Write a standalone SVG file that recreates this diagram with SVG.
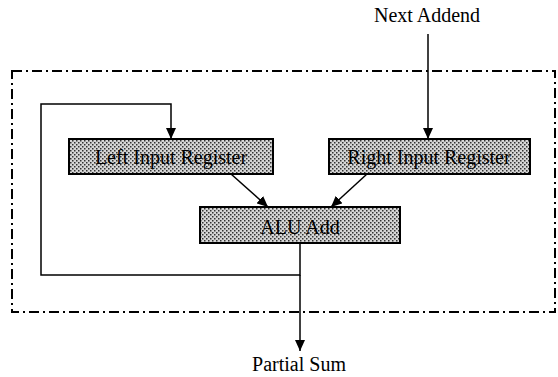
<svg xmlns="http://www.w3.org/2000/svg" width="558" height="377" viewBox="0 0 558 377">
<style>
.box{fill:url(#dots);stroke:#000;stroke-width:2}
.lbl{font-family:"Liberation Serif","Times New Roman",serif;font-size:20px;fill:#000;text-anchor:middle}
.ln{fill:none;stroke:#000;stroke-width:1.5}
.bnd{fill:none;stroke:#000;stroke-width:2;stroke-dasharray:10 4 2 4}
</style>
<defs>
<pattern id="dots" width="4" height="4" patternUnits="userSpaceOnUse">
<rect width="4" height="4" fill="#d6d6d6"/>
<rect x="0" y="0" width="1.5" height="1.5" fill="#333"/>
<rect x="2" y="2" width="1.5" height="1.5" fill="#333"/>
</pattern>
<marker id="ah" markerUnits="userSpaceOnUse" markerWidth="12" markerHeight="10" refX="11" refY="5" orient="auto">
<path d="M0,0 L11,5 L0,10 Z" fill="#000"/>
</marker>
</defs>
<rect class="bnd" x="12" y="71" width="543" height="241"/>
<g id="connectors">
<path class="ln" d="M428,34 V139" marker-end="url(#ah)"/>
<path class="ln" d="M300,243 V275 H41 V104 H171 V139" marker-end="url(#ah)"/>
<path class="ln" d="M300,275 V351" marker-end="url(#ah)"/>
<path class="ln" d="M231,174 L268,207" marker-end="url(#ah)"/>
<path class="ln" d="M367,174 L331,207" marker-end="url(#ah)"/>
</g>
<g id="left-register">
<rect class="box" x="69" y="139" width="204" height="35"/>
<text class="lbl" x="171" y="164">Left Input Register</text>
</g>
<g id="right-register">
<rect class="box" x="329" y="139" width="201" height="35"/>
<text class="lbl" x="429" y="164">Right Input Register</text>
</g>
<g id="alu">
<rect class="box" x="200" y="207" width="200" height="36"/>
<text class="lbl" x="300" y="234">ALU  Add</text>
</g>
<g id="next-addend">
<text class="lbl" x="427" y="22">Next Addend</text>
</g>
<g id="partial-sum">
<text class="lbl" x="299" y="371">Partial Sum</text>
</g>
</svg>
